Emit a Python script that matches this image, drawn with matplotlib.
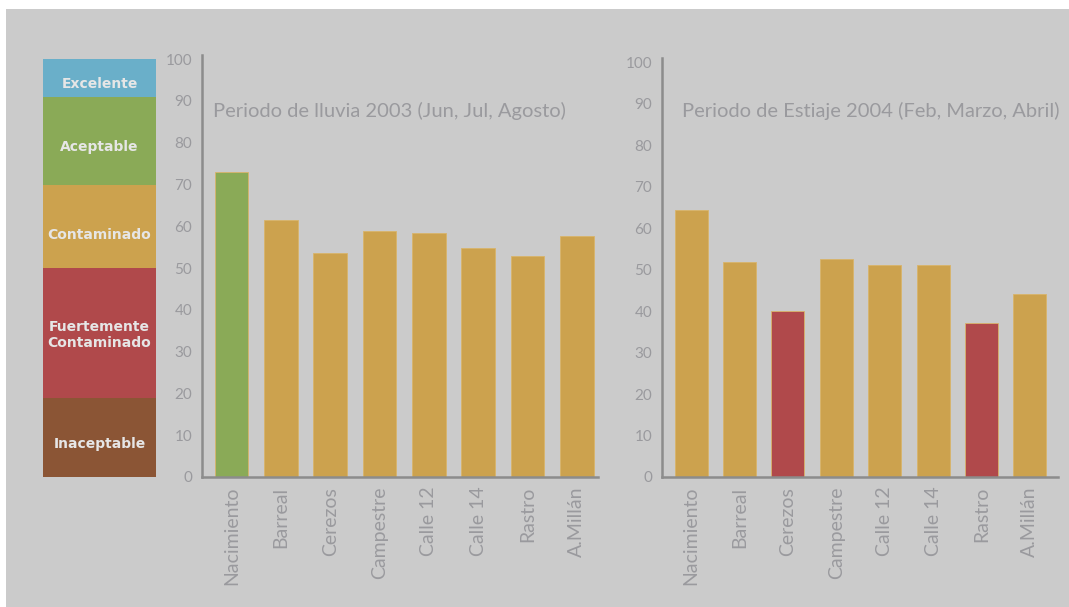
import matplotlib
matplotlib.use("Agg")
import matplotlib.pyplot as plt
from matplotlib.patches import Rectangle

# data
stations = ["Nacimiento", "Barreal", "Cerezos", "Campestre", "Calle 12", "Calle 14", "Rastro", "A.Millán"]
lluvia_2003 = [73, 61.6, 53.5, 58.8, 58.4, 54.7, 53.0, 57.6]
estiaje_2004 = [64.4, 51.8, 40.0, 52.6, 51.0, 51.0, 37.1, 44.0]
lluvia_class = ["Aceptable", "Contaminado", "Contaminado", "Contaminado", "Contaminado", "Contaminado", "Contaminado", "Contaminado"]
estiaje_class = ["Contaminado", "Contaminado", "Fuertemente\nContaminado", "Contaminado", "Contaminado", "Contaminado", "Fuertemente\nContaminado", "Contaminado"]
title_lluvia = "Periodo de lluvia 2003 (Jun, Jul, Agosto)"
title_estiaje = "Periodo de Estiaje 2004 (Feb, Marzo, Abril)"

# quality scale (legend column on the left)
scale_labels = ["Inaceptable", "Fuertemente\nContaminado", "Contaminado", "Aceptable", "Excelente"]
scale_low = [0, 19, 50, 70, 91]
scale_high = [19, 50, 70, 91, 100]
yticks = [0, 10, 20, 30, 40, 50, 60, 70, 80, 90, 100]

# where the scale names sit (a little below the band centres, as in the print)
label_pos = [8, 34, 58, 79, 94]

COLORS = {
    "Inaceptable": "#8b5535",
    "Fuertemente\nContaminado": "#b0494b",
    "Contaminado": "#cca24e",
    "Aceptable": "#8aaa57",
    "Excelente": "#6aafc9",
}
BG = "#cbcbcb"
TXT = "#9a9a9e"
AX = "#8c8c8c"

plt.rcParams["font.family"] = ["Lato", "DejaVu Sans"]

W, H = 1069, 607
fig = plt.figure(figsize=(W / 100, H / 100), dpi=100, facecolor="white")
fig.patches.append(Rectangle((6 / W, 0), 1, 1 - 9 / H, transform=fig.transFigure,
                             facecolor=BG, edgecolor="none", zorder=-10))

def px(x0, y0, x1, y1):
    return [x0 / W, 1 - y1 / H, (x1 - x0) / W, (y1 - y0) / H]

# legend column
lax = fig.add_axes(px(43, 55, 156, 477))
lax.set_axis_off()
lax.set_xlim(0, 1)
lax.set_ylim(0, 101)
for lab, lo, hi, yp in zip(scale_labels, scale_low, scale_high, label_pos):
    lax.bar(0.5, hi - lo, bottom=lo, width=1, color=COLORS[lab], edgecolor="none")
    lax.text(0.5, yp, lab, ha="center", va="center", color="#e6e6e6",
             fontsize=10, fontweight="bold", family=["DejaVu Sans"], linespacing=1.25)


def panel(rect, values, classes, title, xmax, tx, ty):
    ax = fig.add_axes(rect)
    ax.set_facecolor("none")
    x = list(range(len(stations)))
    ax.bar(x, values, width=0.68, color=[COLORS[c] for c in classes],
           edgecolor="#d9b46a", linewidth=0.6)
    ax.set_xlim(-0.6, xmax)
    ax.set_ylim(0, 101)
    ax.set_yticks(yticks)
    ax.set_yticklabels([str(t) for t in yticks], fontsize=11, color=TXT)
    ax.set_xticks(x)
    ax.set_xticklabels(stations, rotation=90, fontsize=14, color=TXT)
    ax.tick_params(length=0, pad=7)
    for s in ["top", "right"]:
        ax.spines[s].set_visible(False)
    for s in ["left", "bottom"]:
        ax.spines[s].set_color(AX)
        ax.spines[s].set_linewidth(1.8)
    ax.text(tx, ty, title, transform=ax.transAxes, fontsize=14.5, color=TXT,
            ha="left", va="center")
    return ax

panel(px(202, 55, 598, 477), lluvia_2003, lluvia_class, title_lluvia, 7.43, 0.028, 0.867)
panel(px(662, 58, 1058, 477), estiaje_2004, estiaje_class, title_estiaje, 7.58, 0.05, 0.873)

fig.savefig("out.png", dpi=100, facecolor="white")
